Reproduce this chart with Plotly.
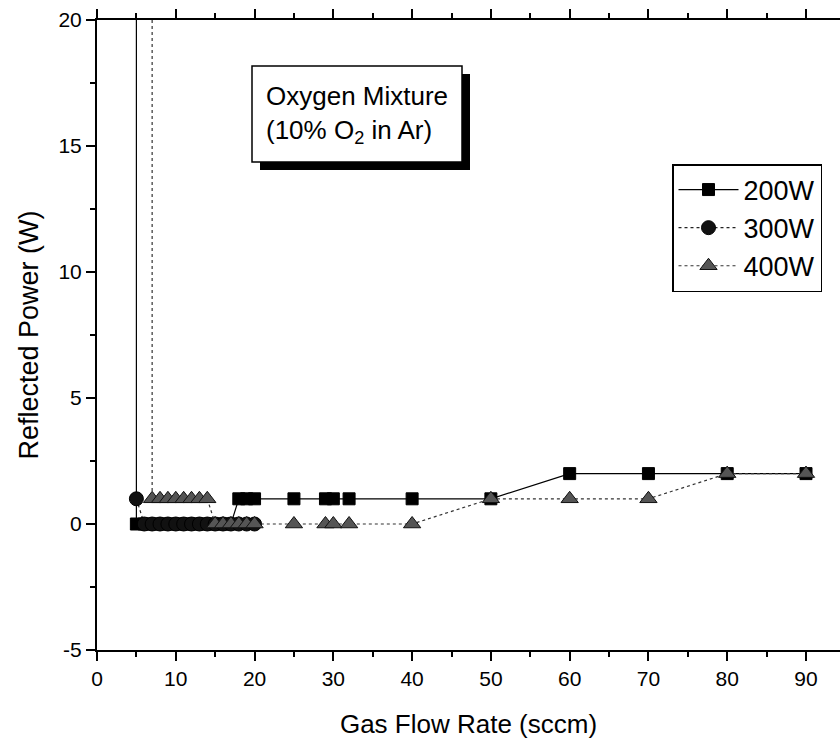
import plotly.graph_objects as go

# ---- data ----
x_200 = [5, 5, 6, 7, 8, 9, 10, 11, 12, 13, 14, 15, 16, 17, 18, 19, 20, 25, 29, 30, 32, 40, 50, 60, 70, 80, 90]
y_200 = [60, 0, 0, 0, 0, 0, 0, 0, 0, 0, 0, 0, 0, 0, 1, 1, 1, 1, 1, 1, 1, 1, 1, 2, 2, 2, 2]

x_300 = [5, 6, 7, 8, 9, 10, 11, 12, 13, 14, 15, 16, 17, 18, 19, 20]
y_300 = [1, 0, 0, 0, 0, 0, 0, 0, 0, 0, 0, 0, 0, 0, 0, 0]

x_400 = [7, 7, 8, 9, 10, 11, 12, 13, 14, 15, 16, 17, 18, 19, 20, 25, 29, 30, 32, 40, 50, 60, 70, 80, 90]
y_400 = [60, 1, 1, 1, 1, 1, 1, 1, 1, 0, 0, 0, 0, 0, 0, 0, 0, 0, 0, 0, 1, 1, 1, 2, 2]

series_names = ["200W", "300W", "400W"]
x_ticks = [0, 10, 20, 30, 40, 50, 60, 70, 80, 90]
y_ticks = [-5, 0, 5, 10, 15, 20]

FONT = "Liberation Sans, Arial, sans-serif"

# ---- layout geometry (pixels) ----
W, H = 840, 746
L, T, R, B = 97, 20, 0, 96
PW, PH = W - L - R, H - T - B
X_PER_UNIT = (806 - 97) / 90.0
x_max = PW / X_PER_UNIT


def px(xp):
    return (xp - L) / PW


def py(yp):
    return (H - B - yp) / PH


fig = go.Figure()

fig.add_trace(go.Scatter(
    x=x_200, y=y_200, name=series_names[0], mode="lines+markers",
    line=dict(color="black", width=1.2, dash="solid"),
    marker=dict(symbol="square", size=12, color="black", line=dict(color="black", width=1)),
    cliponaxis=True,
))
fig.add_trace(go.Scatter(
    x=x_300, y=y_300, name=series_names[1], mode="lines+markers",
    line=dict(color="#222", width=1.2, dash="dot"),
    marker=dict(symbol="circle", size=14, color="#111", line=dict(color="black", width=1)),
    cliponaxis=True,
))
fig.add_trace(go.Scatter(
    x=x_400, y=y_400, name=series_names[2], mode="lines+markers",
    line=dict(color="#333", width=1.2, dash="dot"),
    marker=dict(symbol="triangle-up", size=15, color="#555", line=dict(color="#111", width=1)),
    cliponaxis=True,
))

# annotation box with drop shadow
bx0, bx1, by0, by1 = 252, 462, 66, 162
sh = 8
fig.add_shape(type="rect", xref="paper", yref="paper",
              x0=px(bx0 + sh), x1=px(bx1 + sh), y0=py(by1 + sh), y1=py(by0 + sh),
              fillcolor="black", line=dict(width=0), layer="above")
fig.add_shape(type="rect", xref="paper", yref="paper",
              x0=px(bx0), x1=px(bx1), y0=py(by1), y1=py(by0),
              fillcolor="white", line=dict(color="black", width=1.5), layer="above")
fig.add_annotation(xref="paper", yref="paper", x=px((bx0 + bx1) / 2), y=py((by0 + by1) / 2),
                   text="Oxygen Mixture<br>(10% O<sub>2</sub> in Ar)", showarrow=False,
                   align="left", font=dict(family=FONT, size=26, color="black"),
                   xanchor="center", yanchor="middle")

fig.update_layout(
    width=W, height=H,
    margin=dict(l=L, r=R, t=T, b=B, pad=0),
    paper_bgcolor="white", plot_bgcolor="white",
    font=dict(family=FONT, size=21, color="black"),
    showlegend=True,
    legend=dict(x=px(672), y=py(164), xanchor="left", yanchor="top",
                bordercolor="black", borderwidth=1.5, bgcolor="white",
                font=dict(family=FONT, size=27, color="black"),
                itemwidth=60, tracegroupgap=0),
    xaxis=dict(
        range=[0, x_max], tickmode="array", tickvals=x_ticks,
        ticktext=[str(v) for v in x_ticks],
        showgrid=False, zeroline=False,
        showline=True, linecolor="black", linewidth=2, mirror="ticks",
        ticks="outside", ticklen=9, tickwidth=1.5, tickcolor="black",
        minor=dict(dtick=5, tick0=0, ticks="outside", ticklen=5, tickwidth=1.5, tickcolor="black"),
        tickfont=dict(family=FONT, size=21),
        title=dict(text="Gas Flow Rate (sccm)", font=dict(family=FONT, size=26), standoff=26),
    ),
    yaxis=dict(
        range=[-5, 20], tickmode="array", tickvals=y_ticks,
        ticktext=[str(v) for v in y_ticks],
        showgrid=False, zeroline=False,
        showline=True, linecolor="black", linewidth=2, mirror=False,
        ticks="outside", ticklen=9, tickwidth=1.5, tickcolor="black",
        minor=dict(dtick=2.5, tick0=0, ticks="outside", ticklen=5, tickwidth=1.5, tickcolor="black"),
        tickfont=dict(family=FONT, size=21),
        title=dict(text="Reflected Power (W)", font=dict(family=FONT, size=27), standoff=12),
    ),
)

fig.write_html("out.html")
